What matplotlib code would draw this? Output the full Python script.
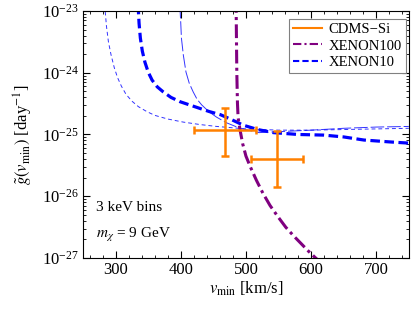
import numpy as np
import matplotlib.pyplot as plt
from matplotlib.ticker import FixedLocator, NullFormatter

plt.rcParams['font.family'] = ['Liberation Serif', 'DejaVu Serif']
plt.rcParams['mathtext.fontset'] = 'stix'

# CDMS-Si bins: centre, x-range, y-range
cdms_v = [468, 547]
cdms_vlo = [421, 507]
cdms_vhi = [516, 588]
cdms_g = [1.2e-25, 4.0e-26]
cdms_glo = [4.5e-26, 1.4e-26]
cdms_ghi = [2.7e-25, 1.15e-25]

# XENON100 limit (log10 g)
x100_v = [484.5, 485, 486, 487, 488, 491, 495, 500, 507, 516, 526, 537, 549, 561, 573, 585, 596, 607, 620]
x100_lg = [-22.8, -23.0, -24.0, -24.5, -24.73, -24.93, -25.15, -25.35, -25.53, -25.74, -25.95,
           -26.15, -26.33, -26.5, -26.64, -26.77, -26.89, -27.0, -27.12]

# XENON10 limit, thick
x10_v = [334.5, 335, 336, 338, 341, 345, 350, 356, 364, 373, 385, 399, 413, 427, 444, 461, 478,
         496, 518, 542, 580, 619, 650, 681, 720, 750]
x10_lg = [-22.9, -23.0, -23.2, -23.44, -23.65, -23.83, -23.99, -24.12, -24.23, -24.31, -24.40,
          -24.47, -24.52, -24.57, -24.63, -24.68, -24.76, -24.85, -24.92, -24.97, -25.0, -25.01,
          -25.04, -25.09, -25.12, -25.14]

# XENON10 thin variants
x10a_v = [283.5, 284, 286, 289, 293, 298, 303, 309, 316, 325, 335, 348, 360, 380, 404, 430, 455,
          500, 550, 600, 650, 700, 750]
x10a_lg = [-22.9, -23.0, -23.25, -23.5, -23.71, -23.92, -24.08, -24.22, -24.35, -24.46, -24.55,
           -24.63, -24.69, -24.75, -24.80, -24.84, -24.87, -24.91, -24.93, -24.93, -24.92, -24.91, -24.90]
x10b_v = [398.5, 399, 400, 401, 404, 408, 413, 419, 425, 432, 443, 455, 470, 491, 520, 560, 600,
          650, 700, 750]
x10b_lg = [-22.9, -23.0, -23.2, -23.44, -23.72, -23.99, -24.17, -24.31, -24.43, -24.52, -24.63,
           -24.72, -24.81, -24.90, -24.97, -24.95, -24.93, -24.90, -24.88, -24.87]

x_ticks = [300, 400, 500, 600, 700]
y_ticks = [1e-27, 1e-26, 1e-25, 1e-24, 1e-23]

orange = (1.0, 0.5, 0.0)
purple = (0.5, 0.0, 0.5)
blue = (0.0, 0.0, 1.0)

fig = plt.figure(figsize=(4.13, 3.12), dpi=100)
ax = fig.add_axes([0.201, 0.173, 0.789, 0.792])

ax.plot(x10a_v, 10 ** np.array(x10a_lg), color=blue, lw=0.7, alpha=0.8, dashes=(4, 3))
ax.plot(x10b_v, 10 ** np.array(x10b_lg), color=blue, lw=0.7, alpha=0.8, dashes=(14, 3))
ax.plot(x10_v, 10 ** np.array(x10_lg), color=blue, lw=2.3, dashes=(3, 1.4))
ax.plot(x100_v, 10 ** np.array(x100_lg), color=purple, lw=2.2, dashes=(4.5, 1.4, 1, 1.4))

xerr = [np.array(cdms_v) - np.array(cdms_vlo), np.array(cdms_vhi) - np.array(cdms_v)]
yerr = [np.array(cdms_g) - np.array(cdms_glo), np.array(cdms_ghi) - np.array(cdms_g)]
ax.errorbar(cdms_v, cdms_g, xerr=xerr, yerr=yerr, fmt='none', ecolor=orange,
            elinewidth=1.8, capsize=3, capthick=1.8)

ax.set_yscale('log')
ax.set_xlim(250, 750)
ax.set_ylim(1e-27, 1e-23)
ax.xaxis.set_major_locator(FixedLocator(x_ticks))
ax.xaxis.set_minor_locator(FixedLocator(np.arange(260, 750, 20)))
ax.yaxis.set_major_locator(FixedLocator(y_ticks))
minor_y = [m * 10.0 ** e for e in range(-27, -23) for m in range(2, 10)]
ax.yaxis.set_minor_locator(FixedLocator(minor_y))
ax.yaxis.set_minor_formatter(NullFormatter())
ax.tick_params(which='both', direction='in', top=True, right=True, labelsize=12, pad=3)
ax.tick_params(which='major', length=5)
ax.tick_params(which='minor', length=2.5)

ax.set_xlabel(r'$v_{\rm min}$ [km/s]', fontsize=12, labelpad=1)
ax.set_ylabel(r'$\tilde{g}(v_{\rm min})$ [day$^{-1}$]', fontsize=12, labelpad=5)

ax.text(0.04, 0.19, '3 keV bins', transform=ax.transAxes, fontsize=11)
ax.text(0.04, 0.08, r'$m_\chi$ = 9 GeV', transform=ax.transAxes, fontsize=11)

h1, = ax.plot([], [], color=orange, lw=1.5)
h2, = ax.plot([], [], color=purple, lw=1.5, dashes=(4, 1.5, 1, 1.5))
h3, = ax.plot([], [], color=blue, lw=1.5, dashes=(3, 1.5))
leg = ax.legend([h1, h2, h3], ['CDMS\u2212Si', 'XENON100', 'XENON10'], loc='upper right',
                fontsize=10.5, fancybox=False, framealpha=1, edgecolor='gray',
                handlelength=2.0, borderpad=0.3, labelspacing=0.2, handletextpad=0.4,
                borderaxespad=0, bbox_to_anchor=(0.991, 0.968))
leg.get_frame().set_linewidth(0.8)

fig.savefig('out.png', dpi=100)
